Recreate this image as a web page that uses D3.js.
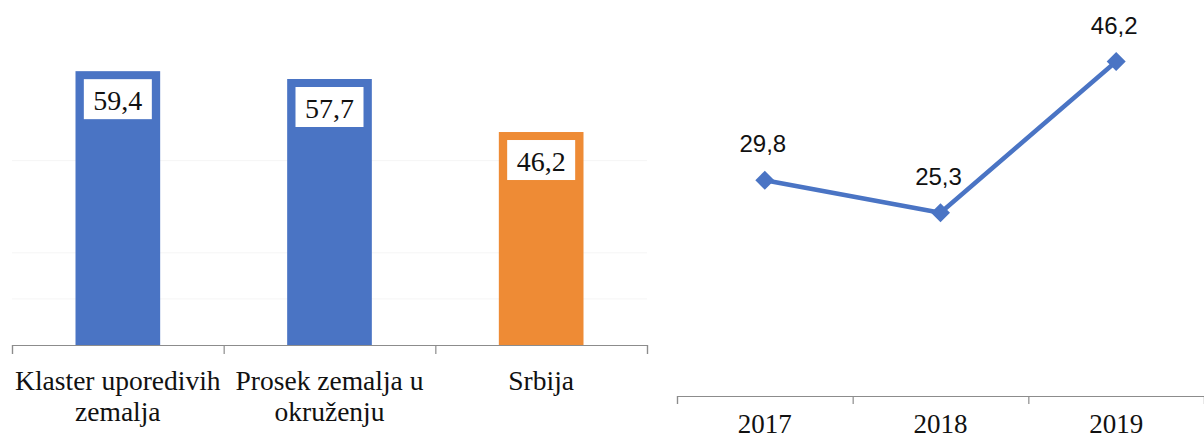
<!DOCTYPE html>
<html><head><meta charset="utf-8">
<script src="https://cdn.jsdelivr.net/npm/d3@7"></script>
<style>body{margin:0;background:#fff}svg{display:block}</style>
</head><body>
<svg id="c" width="1204" height="439"></svg>
<script>
const barCategories = [["Klaster uporedivih","zemalja"],["Prosek zemalja u","okruženju"],["Srbija"]];
const barValues = [59.4, 57.7, 46.2];
const barColors = ["#4a74c4","#4a74c4","#ee8b35"];
const barGridTicks = [10, 20, 40];
const years = ["2017","2018","2019"];
const lineValues = [29.8, 25.3, 46.2];
const fmt = v => d3.format(".1f")(v).replace(".", ",");

const svg = d3.select("#c");
const serif = "'Liberation Serif', 'Times New Roman', serif";
const sans = "'Liberation Sans', Arial, sans-serif";

// ---- Left bar chart
const xb = d3.scaleBand().domain(d3.range(barValues.length)).range([12, 647]).paddingInner(0.6).paddingOuter(0.3);
const yb = d3.scaleLinear().domain([0, 70]).range([345, 22.3]);
const gL = svg.append("g");
gL.selectAll("line.grid").data(barGridTicks).join("line")
  .attr("x1", 12).attr("x2", 647).attr("y1", d => yb(d)).attr("y2", d => yb(d))
  .attr("stroke", "#f5f5f5").attr("stroke-width", 1);
gL.selectAll("rect.bar").data(barValues).join("rect")
  .attr("x", (d,i) => xb(i)).attr("width", xb.bandwidth())
  .attr("y", d => yb(d)).attr("height", d => yb(0) - yb(d))
  .attr("fill", (d,i) => barColors[i]);
const lab = gL.selectAll("g.lab").data(barValues).join("g")
  .attr("transform", (d,i) => `translate(${xb(i) + xb.bandwidth()/2},${yb(d)})`);
lab.append("rect").attr("x", -34).attr("width", 68).attr("y", 8).attr("height", 40).attr("fill", "#fff");
lab.append("text").attr("y", 39).attr("text-anchor", "middle")
  .attr("font-family", serif).attr("font-size", 28).attr("fill", "#111").text(d => fmt(d));
const axL = d3.axisBottom(d3.scalePoint().domain([0,1,2,3]).range([12, 647])).tickSize(9).tickFormat("");
const aL = gL.append("g").attr("transform", "translate(0,345)").call(axL);
aL.selectAll("path,line").attr("stroke", "#8c8c8c").attr("stroke-width", 1.2);
barCategories.forEach((lines, i) => {
  const t = gL.append("text").attr("text-anchor", "middle")
    .attr("font-family", serif).attr("font-size", 27.5).attr("fill", "#111");
  lines.forEach((s, k) => t.append("tspan").attr("x", xb(i) + xb.bandwidth()/2).attr("y", 390 + k*31).text(s));
});

// ---- Right line chart
const xl = d3.scaleBand().domain(years).range([677, 1204]);
const yl = d3.scaleLinear().domain([0, 50]).range([396, 34]);
const gR = svg.append("g");
const axR = d3.axisBottom(d3.scalePoint().domain([0,1,2,3]).range([677, 1204])).tickSize(8).tickFormat("");
const aR = gR.append("g").attr("transform", "translate(0,396)").call(axR);
aR.selectAll("path,line").attr("stroke", "#8c8c8c").attr("stroke-width", 1.2);
gR.selectAll("text.yr").data(years).join("text")
  .attr("x", d => xl(d) + xl.bandwidth()/2).attr("y", 433).attr("text-anchor", "middle")
  .attr("font-family", serif).attr("font-size", 27).attr("fill", "#111").text(d => d);
const line = d3.line().x((d,i) => xl(years[i]) + xl.bandwidth()/2).y(d => yl(d));
gR.append("path").datum(lineValues).attr("d", line)
  .attr("fill", "none").attr("stroke", "#4a74c4").attr("stroke-width", 4.5).attr("stroke-linejoin", "round");
gR.selectAll("path.mk").data(lineValues).join("path")
  .attr("d", d3.symbol(d3.symbolDiamond2, 230))
  .attr("transform", (d,i) => `translate(${xl(years[i]) + xl.bandwidth()/2},${yl(d)})`)
  .attr("fill", "#4a74c4");
gR.selectAll("text.val").data(lineValues).join("text")
  .attr("x", (d,i) => xl(years[i]) + xl.bandwidth()/2 - 2).attr("y", d => yl(d) - 28)
  .attr("text-anchor", "middle").attr("font-family", sans).attr("font-size", 24).attr("fill", "#111")
  .text(d => fmt(d));
</script>
</body></html>
